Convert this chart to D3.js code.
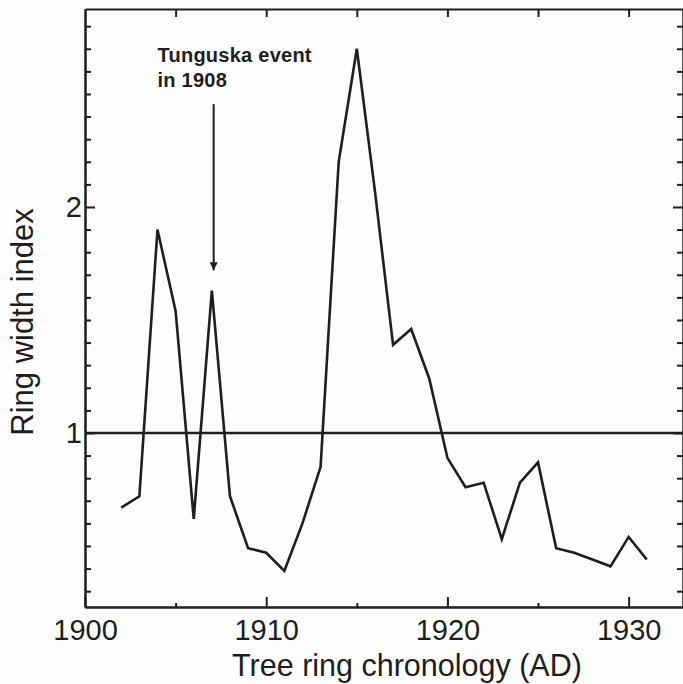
<!DOCTYPE html>
<html>
<head>
<meta charset="utf-8">
<script src="https://cdn.jsdelivr.net/npm/d3@7"></script>
<style>
  html, body { margin: 0; padding: 0; background: #fdfdfd; }
  svg { display: block; }
  text { font-family: "Liberation Sans", Arial, sans-serif; fill: #1e1e1e; }
</style>
</head>
<body>
<svg id="chart" width="683" height="684"></svg>
<script>
// ---- data ----
const years = [1902,1903,1904,1905,1906,1907,1908,1909,1910,1911,1912,1913,1914,1915,1916,
               1917,1918,1919,1920,1921,1922,1923,1924,1925,1926,1927,1928,1929,1930,1931];
const ringIndex = [0.67,0.72,1.90,1.54,0.62,1.63,0.72,0.49,0.47,0.39,0.60,0.85,2.20,2.70,2.07,
                   1.39,1.46,1.24,0.89,0.76,0.78,0.53,0.78,0.87,0.49,0.47,0.44,0.41,0.54,0.44];
const xMajorTicks = [1900, 1910, 1920, 1930];
const xMinorTicks = [1905, 1915, 1925];
const xTopTicks = [1905, 1910, 1915, 1920, 1925, 1930];
const yMajorTicks = [1, 2];
const yMinorTicks = [0.3,0.4,0.5,0.6,0.7,0.8,0.9,1.1,1.2,1.3,1.4,1.5,1.6,1.7,1.8,1.9,2.1,2.2,2.3,2.4,2.5,2.6,2.7,2.8];
const referenceLevel = 1;
const xTitle = "Tree ring chronology (AD)";
const yTitle = "Ring width index";
const annotationLines = ["Tunguska event", "in 1908"];
const annotationTextYear = 1904;
const annotationTextValues = [2.64, 2.53];
const arrowYear = 1907.1;
const arrowFrom = 2.455;
const arrowTo = 1.72;

// ---- layout ----
const svg = d3.select("#chart");
const plotLeft = 85, plotRight = 683, plotTop = 9, plotBottom = 607;
const x = d3.scaleLinear().domain([1900, 1933]).range([plotLeft, plotRight]);
const y = d3.scaleLinear().domain([0.23, 2.876]).range([plotBottom, plotTop]);
const ink = "#1e1e1e";

svg.append("rect").attr("width", 683).attr("height", 684).attr("fill", "#fdfdfd");

function styleAxis(g, fontSize) {
  g.selectAll("path.domain").attr("stroke", ink).attr("stroke-width", 2);
  g.selectAll(".tick line").attr("stroke", ink).attr("stroke-width", 2);
  g.selectAll("text").attr("font-size", fontSize).attr("fill", ink)
    .attr("font-family", "'Liberation Sans', Arial, sans-serif");
}

// bottom axis
const gB = svg.append("g").attr("transform", `translate(0,${plotBottom})`)
  .call(d3.axisBottom(x).tickValues(xMajorTicks).tickSizeInner(-10).tickSizeOuter(0)
    .tickPadding(12).tickFormat(d3.format("d")));
styleAxis(gB, 29);
const gB2 = svg.append("g").attr("transform", `translate(0,${plotBottom})`)
  .call(d3.axisBottom(x).tickValues(xMinorTicks).tickSizeInner(-4).tickSizeOuter(0).tickFormat(""));
styleAxis(gB2, 0);

// top axis
const gT = svg.append("g").attr("transform", `translate(0,${plotTop})`)
  .call(d3.axisTop(x).tickValues(xTopTicks).tickSizeInner(-8).tickSizeOuter(0).tickFormat(""));
styleAxis(gT, 0);

// left axis
const gL = svg.append("g").attr("transform", `translate(${plotLeft},0)`)
  .call(d3.axisLeft(y).tickValues(yMajorTicks).tickSizeInner(-10).tickSizeOuter(0)
    .tickPadding(3).tickFormat(d3.format("d")));
styleAxis(gL, 29);
const gL2 = svg.append("g").attr("transform", `translate(${plotLeft},0)`)
  .call(d3.axisLeft(y).tickValues(yMinorTicks).tickSizeInner(-6).tickSizeOuter(0).tickFormat(""));
styleAxis(gL2, 0);

// right axis
const gR = svg.append("g").attr("transform", `translate(${plotRight},0)`)
  .call(d3.axisRight(y).tickValues(yMajorTicks).tickSizeInner(-10).tickSizeOuter(0).tickFormat(""));
styleAxis(gR, 0);
const gR2 = svg.append("g").attr("transform", `translate(${plotRight},0)`)
  .call(d3.axisRight(y).tickValues(yMinorTicks).tickSizeInner(-6).tickSizeOuter(0).tickFormat(""));
styleAxis(gR2, 0);

// reference line at 1
svg.append("line")
  .attr("x1", x(1900)).attr("x2", x(1933))
  .attr("y1", y(referenceLevel)).attr("y2", y(referenceLevel))
  .attr("stroke", ink).attr("stroke-width", 2.4);

// data line
const series = years.map((yr, i) => ({ year: yr, value: ringIndex[i] }));
svg.append("path")
  .datum(series)
  .attr("fill", "none")
  .attr("stroke", ink)
  .attr("stroke-width", 2.6)
  .attr("stroke-linejoin", "miter")
  .attr("d", d3.line().x(d => x(d.year)).y(d => y(d.value)));

// annotation text
annotationLines.forEach((t, i) => {
  svg.append("text")
    .attr("x", x(annotationTextYear))
    .attr("y", y(annotationTextValues[i]))
    .attr("font-size", 20)
    .attr("font-weight", "bold")
    .attr("letter-spacing", 0.25)
    .attr("font-family", "'Liberation Sans', Arial, sans-serif")
    .text(t);
});

// arrow
svg.append("defs").append("marker")
  .attr("id", "arrowhead")
  .attr("viewBox", "0 0 10 10")
  .attr("refX", 10).attr("refY", 5)
  .attr("markerWidth", 12).attr("markerHeight", 8)
  .attr("markerUnits", "userSpaceOnUse")
  .attr("orient", "auto")
  .append("path").attr("d", "M0,0 L10,5 L0,10 Z").attr("fill", ink);

svg.append("line")
  .attr("x1", x(arrowYear)).attr("x2", x(arrowYear))
  .attr("y1", y(arrowFrom)).attr("y2", y(arrowTo))
  .attr("stroke", ink).attr("stroke-width", 2)
  .attr("marker-end", "url(#arrowhead)");

// axis titles
svg.append("text")
  .attr("x", 407).attr("y", 676)
  .attr("text-anchor", "middle")
  .attr("font-size", 30.5)
  .text(xTitle);

svg.append("text")
  .attr("transform", `translate(33,${(y(1) + y(2)) / 2 + 2}) rotate(-90)`)
  .attr("text-anchor", "middle")
  .attr("font-size", 31)
  .text(yTitle);
</script>
</body>
</html>
